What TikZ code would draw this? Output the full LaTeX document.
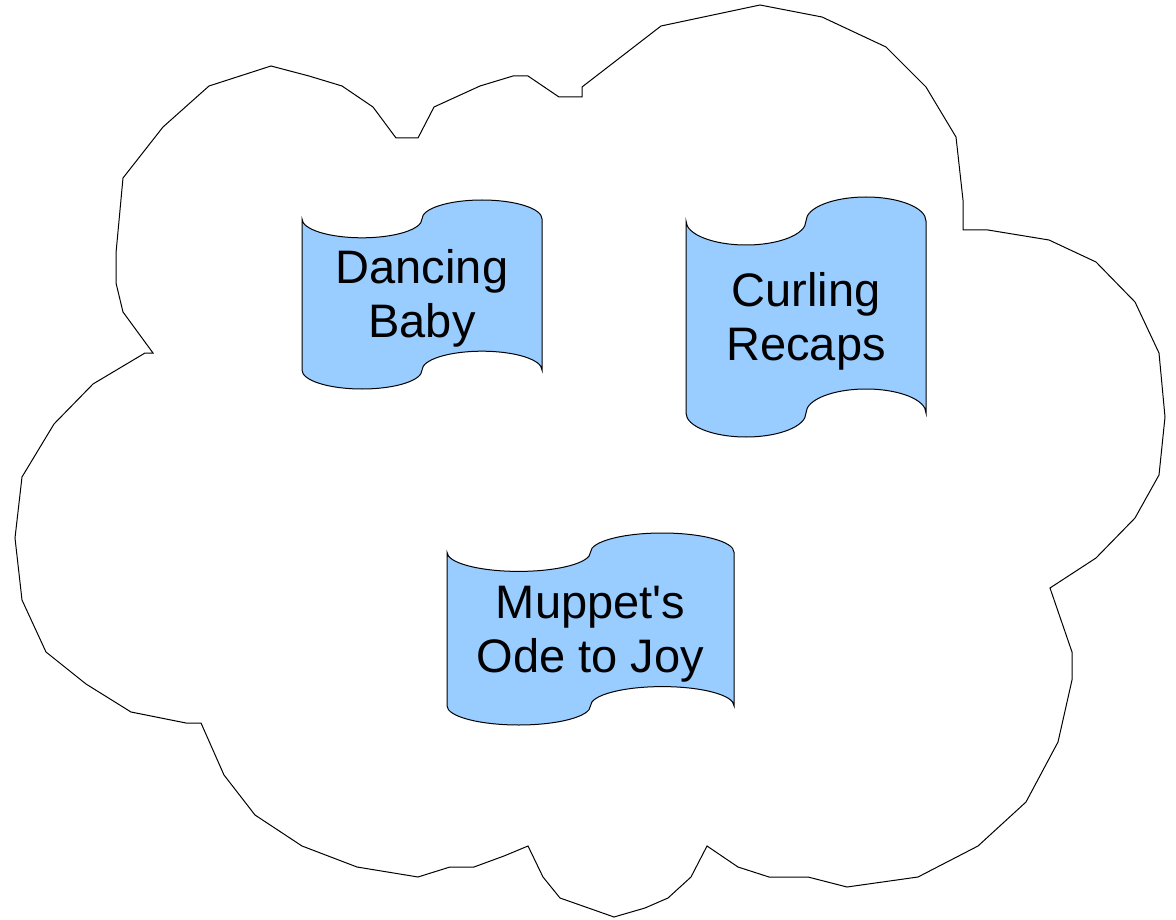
\documentclass[tikz,border=0pt]{standalone}
\usepackage{fontspec}
\setmainfont{Liberation Sans}
\definecolor{tapeblue}{HTML}{99CCFF}
\newcommand{\tapestrut}{\rule[-0.212em]{0pt}{1.117em}}
\newcommand{\tape}[6]{%
  \draw[tapebox] (#2,#3+#5/10)
    arc[start angle=180, end angle=360, x radius=#4/4*1pt, y radius=#5/10*1pt]
    arc[start angle=180, end angle=0, x radius=#4/4*1pt, y radius=#5/10*1pt]
    -- ++(0,#5*4/5)
    arc[start angle=0, end angle=180, x radius=#4/4*1pt, y radius=#5/10*1pt]
    arc[start angle=0, end angle=-180, x radius=#4/4*1pt, y radius=#5/10*1pt]
    -- cycle;
  \node[tapetext] (#1) at ({#2+#4/2},{#3+#5/2}) {#6};}

\begin{document}
\begin{tikzpicture}[
                x=1pt,
                y=-1pt,
                cloud/.style={
                  draw=black,
                  line width=1pt,
                  fill=white,
                },
                tapebox/.style={
                  draw=black,
                  line width=1pt,
                  fill=tapeblue,
                },
                tapetext/.style={
                  align=center,
                  inner sep=0pt,
                  font=\fontsize{47}{54}\selectfont,
                },
              ]
              \useasboundingbox (0,0) rectangle (1176,920);
              \draw[cloud] (396,138) -- (418,138) -- (434,107) -- (480,86) -- (513,76)
                -- (528,76) -- (559,97) -- (582,97) -- (582,87) -- (661,26) -- (760,5)
                -- (822,17) -- (886,47) -- (926,87) -- (956,137) -- (963,200) -- (963,230)
                -- (988,230) -- (1049,240) -- (1096,262) -- (1135,302) -- (1159,353)
                -- (1165,417) -- (1159,475) -- (1135,518) -- (1096,558) -- (1050,588)
                -- (1072,652) -- (1072,680) -- (1058,742) -- (1026,802) -- (978,846)
                -- (918,877) -- (847,887) -- (808,877) -- (769,877) -- (738,867)
                -- (707,846) -- (691,877) -- (668,898) -- (645,908) -- (614,917)
                -- (560,898) -- (543,877) -- (528,846) -- (504,856) -- (474,867)
                -- (450,867) -- (418,877) -- (357,867) -- (302,846) -- (255,815)
                -- (224,775) -- (201,723) -- (186,723) -- (131,712) -- (86,684)
                -- (46,652) -- (22,600) -- (15,538) -- (22,477) -- (54,424) -- (93,384)
                -- (145,353) -- (153,353) -- (123,312) -- (116,283) -- (116,253)
                -- (123,178) -- (163,127) -- (209,86) -- (271,66) -- (309,76)
                -- (342,86) -- (373,107) -- cycle;
              \tape{baby}{302}{200}{240}{189}{\tapestrut Dancing\\\tapestrut Baby}
              \tape{curling}{686}{197}{240}{240}{\tapestrut Curling\\\tapestrut Recaps}
              \tape{muppets}{447}{533}{287}{192}{\tapestrut Muppet\textquotesingle s\\\tapestrut Ode to Joy}
              \end{tikzpicture}
\end{document}
